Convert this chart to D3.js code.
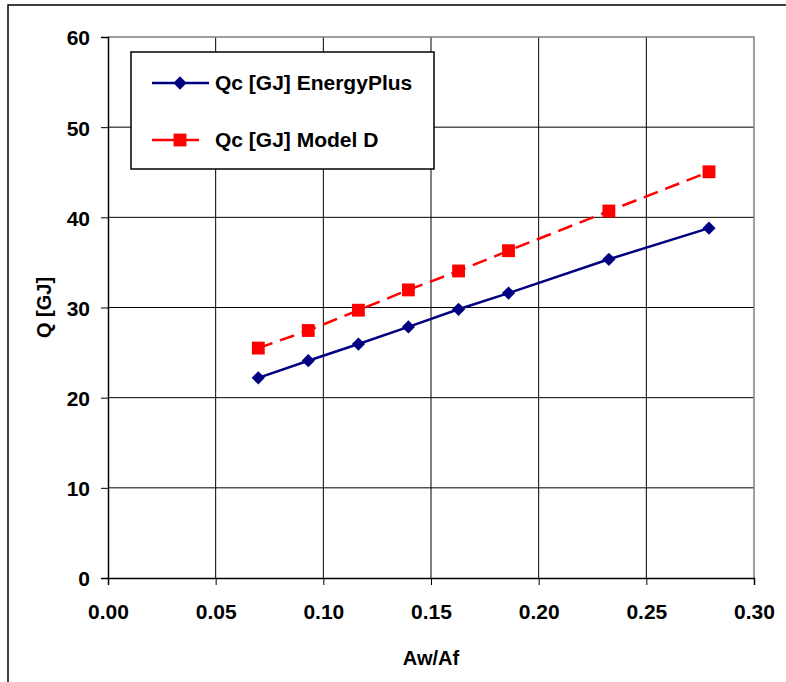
<!DOCTYPE html>
<html>
<head>
<meta charset="utf-8">
<script src="https://cdn.jsdelivr.net/npm/d3@7"></script>
<style>
  body { margin: 0; background: #fff; }
  svg { display: block; font-family: "Liberation Sans", Arial, sans-serif; font-weight: bold; }
</style>
</head>
<body>
<svg id="chart" width="786" height="682"></svg>
<script>
// data
const ratio = [0.0698, 0.0930, 0.1163, 0.1395, 0.1628, 0.1860, 0.2326, 0.2791];
const qEnergyPlus = [22.2, 24.1, 25.95, 27.85, 29.8, 31.6, 35.35, 38.8];
const qModelD = [25.5, 27.45, 29.7, 31.95, 34.05, 36.3, 40.7, 45.05];
const xTicks = [0, 0.05, 0.10, 0.15, 0.20, 0.25, 0.30];
const yTicks = [0, 10, 20, 30, 40, 50, 60];
const seriesNames = ["Qc [GJ] EnergyPlus", "Qc [GJ] Model D"];

const svg = d3.select("#chart");
const plotL = 108, plotR = 754, plotT = 37, plotB = 578;

// outer chart frame (only left and top edges show)
svg.append("path")
  .attr("d", "M8,682 V5 H786")
  .attr("fill", "none")
  .attr("stroke", "#000")
  .attr("stroke-width", 1.5);

const x = d3.scaleLinear().domain([0, 0.3]).range([plotL, plotR]);
const y = d3.scaleLinear().domain([0, 60]).range([plotB, plotT]);

// gridlines
const grid = svg.append("g");
grid.selectAll(".vg").data(xTicks.slice(1, -1)).enter().append("line")
  .attr("x1", d => x(d)).attr("x2", d => x(d))
  .attr("y1", plotT).attr("y2", plotB)
  .attr("stroke", "#000").attr("stroke-width", 1);
grid.selectAll(".hg").data(yTicks.slice(1, -1)).enter().append("line")
  .attr("x1", plotL).attr("x2", plotR)
  .attr("y1", d => y(d)).attr("y2", d => y(d))
  .attr("stroke", "#000").attr("stroke-width", 1);

// plot border top / right in gray
svg.append("path")
  .attr("d", `M${plotL},${plotT} H${plotR} V${plotB}`)
  .attr("fill", "none").attr("stroke", "#808080").attr("stroke-width", 1.5);

// axes
const xAxis = svg.append("g")
  .attr("transform", `translate(0,${plotB})`)
  .call(d3.axisBottom(x).tickValues(xTicks).tickFormat(d3.format(".2f")).tickSize(7).tickPadding(19));
const yAxis = svg.append("g")
  .attr("transform", `translate(${plotL},0)`)
  .call(d3.axisLeft(y).tickValues(yTicks).tickSize(7).tickPadding(11));

[xAxis, yAxis].forEach(a => {
  a.select(".domain").attr("stroke", "#000").attr("stroke-width", 1.5);
  a.selectAll(".tick line").attr("stroke", "#000").attr("stroke-width", 1);
  a.selectAll("text")
    .attr("fill", "#000")
    .style("font-family", "'Liberation Sans', Arial, sans-serif")
    .style("font-weight", "bold")
    .style("font-size", "21px");
});
yAxis.selectAll("text").attr("dy", "0.38em");

// axis titles
svg.append("text")
  .attr("x", (plotL + plotR) / 2).attr("y", 665)
  .attr("text-anchor", "middle")
  .style("font-size", "20px")
  .text("Aw/Af");
svg.append("text")
  .attr("transform", `translate(51,${(plotT + plotB) / 2}) rotate(-90)`)
  .attr("text-anchor", "middle")
  .style("font-size", "20px")
  .text("Q [GJ]");

// series
const line = d3.line().x(d => x(d[0])).y(d => y(d[1]));
const blueData = ratio.map((r, i) => [r, qEnergyPlus[i]]);
const redData = ratio.map((r, i) => [r, qModelD[i]]);

svg.append("path").datum(blueData)
  .attr("d", line).attr("fill", "none")
  .attr("stroke", "#000080").attr("stroke-width", 2.5);
svg.append("path").datum(redData)
  .attr("d", line).attr("fill", "none")
  .attr("stroke", "#ff0000").attr("stroke-width", 2.5)
  .attr("stroke-dasharray", "15,8");

const diamond = d3.symbol().type(d3.symbolSquare).size(88);
const square = d3.symbol().type(d3.symbolSquare).size(165);

svg.selectAll(".bm").data(blueData).enter().append("path")
  .attr("transform", d => `translate(${x(d[0])},${y(d[1])}) rotate(45)`)
  .attr("d", diamond)
  .attr("fill", "#000080");
svg.selectAll(".rm").data(redData).enter().append("path")
  .attr("transform", d => `translate(${x(d[0])},${y(d[1])})`)
  .attr("d", square)
  .attr("fill", "#ff0000");

// legend
const legend = svg.append("g");
legend.append("rect")
  .attr("x", 131).attr("y", 52).attr("width", 303).attr("height", 117)
  .attr("fill", "#fff").attr("stroke", "#000").attr("stroke-width", 1.5);

const legY = [83, 140];
legend.append("line")
  .attr("x1", 152).attr("x2", 209).attr("y1", legY[0]).attr("y2", legY[0])
  .attr("stroke", "#000080").attr("stroke-width", 2.5);
legend.append("path")
  .attr("transform", `translate(180,${legY[0]}) rotate(45)`)
  .attr("d", diamond)
  .attr("fill", "#000080");
legend.append("line")
  .attr("x1", 152).attr("x2", 199).attr("y1", legY[1]).attr("y2", legY[1])
  .attr("stroke", "#ff0000").attr("stroke-width", 2.5);
legend.append("path")
  .attr("transform", `translate(180,${legY[1]})`)
  .attr("d", square)
  .attr("fill", "#ff0000");

legend.selectAll(".lt").data(seriesNames).enter().append("text")
  .attr("x", 215)
  .attr("y", (d, i) => legY[i] + 7)
  .style("font-size", "21px")
  .text(d => d);
</script>
</body>
</html>
